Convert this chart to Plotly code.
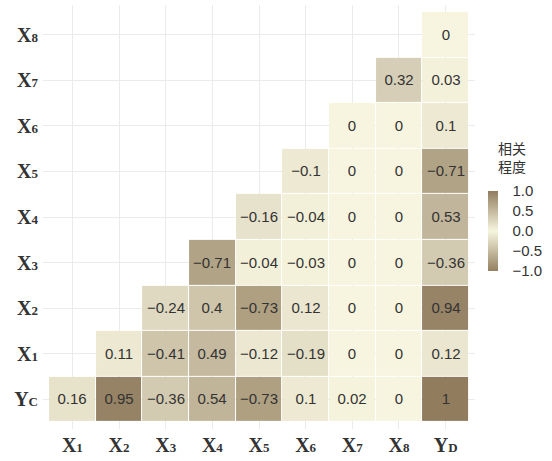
import plotly.graph_objects as go

# Variables along each axis
row_vars = ["Yc", "X1", "X2", "X3", "X4", "X5", "X6", "X7", "X8"]
col_vars = ["X1", "X2", "X3", "X4", "X5", "X6", "X7", "X8", "YD"]

# Tick labels: big serif letter with a smaller index
row_ticks = ["Y<span style='font-size:13px'>C</span>"] + [
    f"X<span style='font-size:13px'>{i}</span>" for i in range(1, 9)
]
col_ticks = [f"X<span style='font-size:13px'>{i}</span>" for i in range(1, 9)] + [
    "Y<span style='font-size:13px'>D</span>"
]

# Correlation coefficients, one list per row (bottom to top); None = empty cell
corr_yc = [0.16, 0.95, -0.36, 0.54, -0.73, 0.1, 0.02, 0, 1]
corr_x1 = [None, 0.11, -0.41, 0.49, -0.12, -0.19, 0, 0, 0.12]
corr_x2 = [None, None, -0.24, 0.4, -0.73, 0.12, 0, 0, 0.94]
corr_x3 = [None, None, None, -0.71, -0.04, -0.03, 0, 0, -0.36]
corr_x4 = [None, None, None, None, -0.16, -0.04, 0, 0, 0.53]
corr_x5 = [None, None, None, None, None, -0.1, 0, 0, -0.71]
corr_x6 = [None, None, None, None, None, None, 0, 0, 0.1]
corr_x7 = [None, None, None, None, None, None, None, 0.32, 0.03]
corr_x8 = [None, None, None, None, None, None, None, None, 0]

z = [corr_yc, corr_x1, corr_x2, corr_x3, corr_x4, corr_x5, corr_x6, corr_x7, corr_x8]

# Colour bar labels
bar_vals = [-1, -0.5, 0, 0.5, 1]
bar_text = ["\u22121.0", "\u22120.5", "0.0", "0.5", "1.0"]


def fmt(v):
    if v is None:
        return ""
    return f"{v:g}".replace("-", "\u2212")


text = [[fmt(v) for v in row] for row in z]

colorscale = [
    [0.0, "rgb(148,129,96)"],
    [0.5, "rgb(247,245,223)"],
    [1.0, "rgb(145,124,94)"],
]

fig = go.Figure(
    go.Heatmap(
        z=z,
        x=list(range(9)),
        y=list(range(9)),
        text=text,
        texttemplate="%{text}",
        textfont=dict(family="Liberation Sans, Arial, sans-serif", size=15, color="#333333"),
        colorscale=colorscale,
        zmin=-1,
        zmax=1,
        xgap=1,
        ygap=1,
        hoverongaps=False,
        colorbar=dict(
            x=1.030,
            xanchor="left",
            xpad=0,
            y=0.4676,
            yanchor="middle",
            ypad=0,
            len=80,
            lenmode="pixels",
            thickness=10,
            outlinewidth=0,
            tickvals=bar_vals,
            ticktext=bar_text,
            ticks="outside",
            ticklen=12,
            tickcolor="rgba(0,0,0,0)",
            tickfont=dict(family="Liberation Sans, Arial, sans-serif", size=15, color="#333333"),
        ),
    )
)

fig.add_annotation(
    text="相关<br>程度",
    xref="paper",
    yref="paper",
    x=1.0856,
    y=0.5926,
    xanchor="center",
    yanchor="bottom",
    showarrow=False,
    align="center",
    font=dict(family="Noto Sans CJK SC", size=14, color="#333333"),
)

axis_common = dict(
    showgrid=True,
    gridcolor="#ebebeb",
    gridwidth=1,
    zeroline=False,
    showline=False,
    ticks="",
    tickfont=dict(family="Liberation Serif, Times New Roman, serif", size=20, color="#333333"),
)

fig.update_layout(
    width=552,
    height=461,
    margin=dict(l=43, r=77, t=5, b=24),
    paper_bgcolor="white",
    plot_bgcolor="white",
    xaxis=dict(
        **axis_common,
        tickvals=list(range(9)),
        ticktext=[f"<b>{t}</b>" for t in col_ticks],
        range=[-0.63, 8.63],
        ticklabelstandoff=2,
    ),
    yaxis=dict(
        **axis_common,
        tickvals=list(range(9)),
        ticktext=[f"<b>{t}</b>" for t in row_ticks],
        range=[-0.65, 8.65],
        ticklabelstandoff=4,
    ),
)

fig.write_html("out.html")
